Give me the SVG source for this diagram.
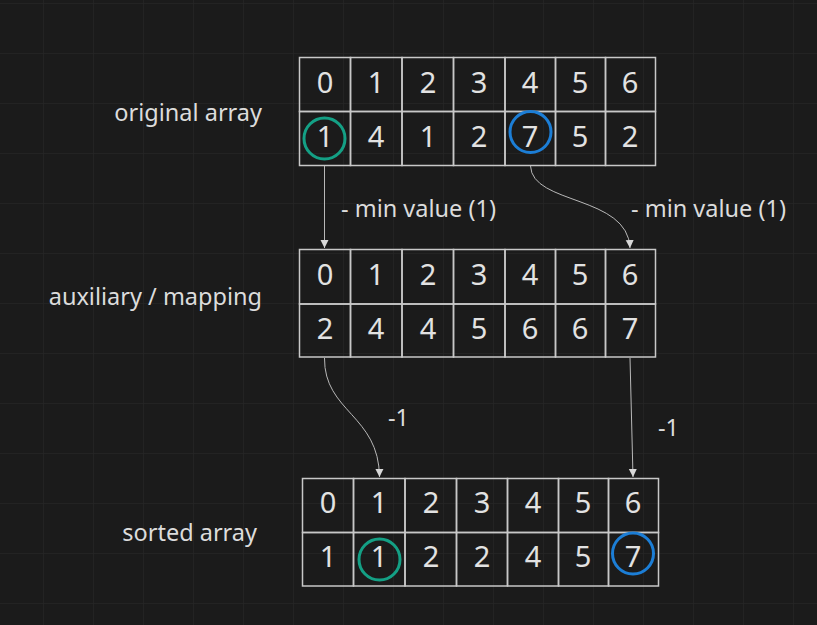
<svg xmlns="http://www.w3.org/2000/svg" width="817" height="625" viewBox="0 0 817 625">
<defs>
<pattern id="grid" x="43" y="3" width="50" height="50" patternUnits="userSpaceOnUse">
<path d="M0,0 H50 M0,0 V50" fill="none" stroke="#252525" stroke-width="1.5"/>
</pattern>
<marker id="ah" viewBox="0 0 8 10" refX="8" refY="5" markerWidth="8" markerHeight="10" markerUnits="userSpaceOnUse" orient="auto">
<path d="M0,1 L8,5 L0,9 Z" fill="#d8d8d8"/>
</marker>
<style>
.cell{fill:none;stroke:#c8c8c8;stroke-width:1.5}
.num{font-family:"Noto Sans","Open Sans",sans-serif;font-size:29px;fill:#e2e2e2;text-anchor:middle}
.lbl{font-family:"Noto Sans","Open Sans",sans-serif;font-size:23.5px;fill:#dcdcdc}
.conn{fill:none;stroke:#b8b8b8;stroke-width:1}
.green{fill:none;stroke:#14a085;stroke-width:3}
.blue{fill:none;stroke:#1c7ed6;stroke-width:3}
</style>
</defs>
<rect width="817" height="625" fill="#1b1b1b"/>
<rect width="817" height="625" fill="url(#grid)"/>

<g id="label-original"><text class="lbl" x="262" y="121" text-anchor="end">original array</text></g>
<g id="label-aux"><text class="lbl" x="262" y="305" text-anchor="end">auxiliary / mapping</text></g>
<g id="label-sorted"><text class="lbl" x="257" y="541" text-anchor="end">sorted array</text></g>

<g id="original-array">
<rect class="cell" x="299.5" y="57.5" width="51" height="54"/>
<rect class="cell" x="350.5" y="57.5" width="51.5" height="54"/>
<rect class="cell" x="402" y="57.5" width="51.5" height="54"/>
<rect class="cell" x="453.5" y="57.5" width="51.5" height="54"/>
<rect class="cell" x="505" y="57.5" width="50.5" height="54"/>
<rect class="cell" x="555.5" y="57.5" width="50" height="54"/>
<rect class="cell" x="605.5" y="57.5" width="50" height="54"/>
<rect class="cell" x="299.5" y="111.5" width="51" height="54"/>
<rect class="cell" x="350.5" y="111.5" width="51.5" height="54"/>
<rect class="cell" x="402" y="111.5" width="51.5" height="54"/>
<rect class="cell" x="453.5" y="111.5" width="51.5" height="54"/>
<rect class="cell" x="505" y="111.5" width="50.5" height="54"/>
<rect class="cell" x="555.5" y="111.5" width="50" height="54"/>
<rect class="cell" x="605.5" y="111.5" width="50" height="54"/>
<text class="num" x="325" y="93">0</text>
<text class="num" x="376" y="93">1</text>
<text class="num" x="428" y="93">2</text>
<text class="num" x="479" y="93">3</text>
<text class="num" x="530" y="93">4</text>
<text class="num" x="580" y="93">5</text>
<text class="num" x="630" y="93">6</text>
<text class="num" x="325" y="147">1</text>
<text class="num" x="376" y="147">4</text>
<text class="num" x="428" y="147">1</text>
<text class="num" x="479" y="147">2</text>
<text class="num" x="530" y="147">7</text>
<text class="num" x="580" y="147">5</text>
<text class="num" x="630" y="147">2</text>
<circle class="green" cx="324.5" cy="138.5" r="20.5"/>
<circle class="blue" cx="530.5" cy="132" r="20.5"/>
</g>

<g id="aux-array">
<rect class="cell" x="299.5" y="249.5" width="51" height="54.5"/>
<rect class="cell" x="350.5" y="249.5" width="51.5" height="54.5"/>
<rect class="cell" x="402" y="249.5" width="51.5" height="54.5"/>
<rect class="cell" x="453.5" y="249.5" width="51.5" height="54.5"/>
<rect class="cell" x="505" y="249.5" width="50.5" height="54.5"/>
<rect class="cell" x="555.5" y="249.5" width="50" height="54.5"/>
<rect class="cell" x="605.5" y="249.5" width="50" height="54.5"/>
<rect class="cell" x="299.5" y="304" width="51" height="53"/>
<rect class="cell" x="350.5" y="304" width="51.5" height="53"/>
<rect class="cell" x="402" y="304" width="51.5" height="53"/>
<rect class="cell" x="453.5" y="304" width="51.5" height="53"/>
<rect class="cell" x="505" y="304" width="50.5" height="53"/>
<rect class="cell" x="555.5" y="304" width="50" height="53"/>
<rect class="cell" x="605.5" y="304" width="50" height="53"/>
<text class="num" x="325" y="285">0</text>
<text class="num" x="376" y="285">1</text>
<text class="num" x="428" y="285">2</text>
<text class="num" x="479" y="285">3</text>
<text class="num" x="530" y="285">4</text>
<text class="num" x="580" y="285">5</text>
<text class="num" x="630" y="285">6</text>
<text class="num" x="325" y="339">2</text>
<text class="num" x="376" y="339">4</text>
<text class="num" x="428" y="339">4</text>
<text class="num" x="479" y="339">5</text>
<text class="num" x="530" y="339">6</text>
<text class="num" x="580" y="339">6</text>
<text class="num" x="630" y="339">7</text>
</g>

<g id="sorted-array">
<rect class="cell" x="302.5" y="478.5" width="51" height="54"/>
<rect class="cell" x="353.5" y="478.5" width="51.5" height="54"/>
<rect class="cell" x="405" y="478.5" width="51.5" height="54"/>
<rect class="cell" x="456.5" y="478.5" width="51" height="54"/>
<rect class="cell" x="507.5" y="478.5" width="51" height="54"/>
<rect class="cell" x="558.5" y="478.5" width="50" height="54"/>
<rect class="cell" x="608.5" y="478.5" width="50" height="54"/>
<rect class="cell" x="302.5" y="532.5" width="51" height="53.5"/>
<rect class="cell" x="353.5" y="532.5" width="51.5" height="53.5"/>
<rect class="cell" x="405" y="532.5" width="51.5" height="53.5"/>
<rect class="cell" x="456.5" y="532.5" width="51" height="53.5"/>
<rect class="cell" x="507.5" y="532.5" width="51" height="53.5"/>
<rect class="cell" x="558.5" y="532.5" width="50" height="53.5"/>
<rect class="cell" x="608.5" y="532.5" width="50" height="53.5"/>
<text class="num" x="328" y="513">0</text>
<text class="num" x="379" y="513">1</text>
<text class="num" x="431" y="513">2</text>
<text class="num" x="482" y="513">3</text>
<text class="num" x="533" y="513">4</text>
<text class="num" x="583" y="513">5</text>
<text class="num" x="633" y="513">6</text>
<text class="num" x="328" y="567">1</text>
<text class="num" x="379" y="567">1</text>
<text class="num" x="431" y="567">2</text>
<text class="num" x="482" y="567">2</text>
<text class="num" x="533" y="567">4</text>
<text class="num" x="583" y="567">5</text>
<text class="num" x="633" y="567">7</text>
<circle class="green" cx="379.5" cy="559.5" r="20.5"/>
<circle class="blue" cx="633" cy="553.5" r="20.5"/>
</g>

<g id="connectors">
<path class="conn" d="M324.5,166 L324.5,248" marker-end="url(#ah)"/>
<path class="conn" d="M530.5,166 C532,205 628,195 630,248" marker-end="url(#ah)"/>
<path class="conn" d="M324.5,358 C324,412 379,415 379.5,477" marker-end="url(#ah)"/>
<path class="conn" d="M630,358 L633,477" marker-end="url(#ah)"/>
<text class="lbl" x="341" y="217">- min value (1)</text>
<text class="lbl" x="631" y="217">- min value (1)</text>
<text class="lbl" x="388" y="426">-1</text>
<text class="lbl" x="658" y="436">-1</text>
</g>
</svg>
